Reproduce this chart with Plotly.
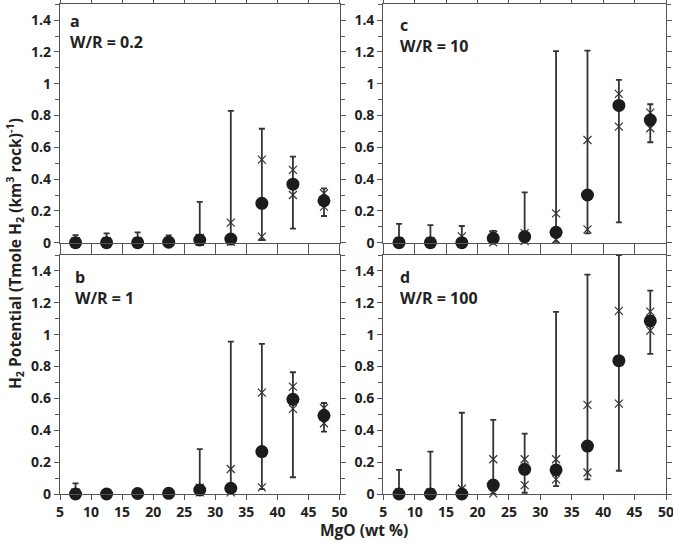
import plotly.graph_objects as go

# ---------------- data ----------------
MGO = [7.5, 12.5, 17.5, 22.5, 27.5, 32.5, 37.5, 42.5, 47.5]
X_TICKS = [5, 10, 15, 20, 25, 30, 35, 40, 45, 50]
X_TICK_TEXT = ["5", "10", "15", "20", "25", "30", "35", "40", "45", "50"]
Y_TICKS = [0, 0.2, 0.4, 0.6, 0.8, 1.0, 1.2, 1.4]
Y_TICK_TEXT = ["0", "0.2", "0.4", "0.6", "0.8", "1", "1.2", "1.4"]

PANEL_LETTERS = ["a", "c", "b", "d"]
PANEL_WR = ["W/R = 0.2", "W/R = 10", "W/R = 1", "W/R = 100"]

# W/R = 0.2 (panel a)
mean_a = [0.0, 0.0, 0.0, 0.003, 0.017, 0.023, 0.248, 0.368, 0.264]
upper_a = [0.048, 0.059, 0.065, 0.046, 0.257, 0.829, 0.717, 0.541, 0.342]
lower_a = [0.0, 0.0, 0.0, 0.0, 0.0, 0.0, 0.017, 0.089, 0.168]
xhi_a = [0.01, 0.01, 0.01, 0.01, 0.03, 0.126, 0.523, 0.458, 0.311]
xlo_a = [0.0, 0.0, 0.0, 0.0, 0.005, 0.005, 0.038, 0.300, 0.227]

# W/R = 10 (panel c)
mean_c = [0.0, 0.0, 0.0, 0.028, 0.038, 0.065, 0.300, 0.864, 0.772]
upper_c = [0.118, 0.111, 0.105, 0.074, 0.317, 1.206, 1.208, 1.024, 0.871]
lower_c = [0.0, 0.0, 0.0, 0.0, 0.0, 0.0, 0.059, 0.128, 0.632]
xhi_c = [0.01, 0.01, 0.04, 0.05, 0.06, 0.185, 0.646, 0.936, 0.818]
xlo_c = [0.0, 0.0, 0.0, 0.002, 0.01, 0.02, 0.084, 0.730, 0.720]

# W/R = 1 (panel b)
mean_b = [0.0, 0.0, 0.003, 0.004, 0.025, 0.036, 0.266, 0.594, 0.492]
upper_b = [0.067, 0.0, 0.005, 0.006, 0.282, 0.956, 0.942, 0.764, 0.571]
lower_b = [0.0, 0.0, 0.0, 0.0, 0.0, 0.0, 0.030, 0.105, 0.391]
xhi_b = [0.01, 0.0, 0.004, 0.005, 0.04, 0.157, 0.636, 0.674, 0.540]
xlo_b = [0.0, 0.0, 0.002, 0.003, 0.01, 0.01, 0.042, 0.534, 0.444]

# W/R = 100 (panel d)
mean_d = [0.0, 0.0, 0.0, 0.056, 0.155, 0.151, 0.301, 0.837, 1.086]
upper_d = [0.151, 0.266, 0.510, 0.465, 0.379, 1.143, 1.377, 1.500, 1.276]
lower_d = [0.0, 0.0, 0.0, 0.0, 0.008, 0.050, 0.092, 0.146, 0.879]
xhi_d = [0.01, 0.01, 0.033, 0.218, 0.218, 0.218, 0.559, 1.149, 1.145]
xlo_d = [0.0, 0.0, 0.0, 0.004, 0.056, 0.092, 0.135, 0.567, 1.025]

PANELS = [
    (mean_a, upper_a, lower_a, xhi_a, xlo_a),
    (mean_c, upper_c, lower_c, xhi_c, xlo_c),
    (mean_b, upper_b, lower_b, xhi_b, xlo_b),
    (mean_d, upper_d, lower_d, xhi_d, xlo_d),
]

# ---------------- styling ----------------
FONT = "Open Sans"
TXT = "#222222"
AX_COLOR = "#555555"
BAR_COLOR = "#333333"
DOT_COLOR = "#1c1c1c"

W, H = 673, 542
ML, MR, MT, MB = 60, 7, 4, 48
PW = W - ML - MR
PH = H - MT - MB

def fx(px):
    return (px - ML) / PW

def fy(py):
    return (H - MB - py) / PH

def bold(s):
    return f"<b>{s}</b>"

X_DOMAINS = [[fx(60), fx(339.5)], [fx(383.3), fx(666)], [fx(60), fx(339.5)], [fx(383.3), fx(666)]]
Y_DOMAINS = [[fy(242.7), fy(4.3)], [fy(242.7), fy(4.3)], [fy(494), fy(255)], [fy(494), fy(255)]]

fig = go.Figure()

for i, (mean, upper, lower, xhi, xlo) in enumerate(PANELS):
    xa = "x" if i == 0 else f"x{i+1}"
    ya = "y" if i == 0 else f"y{i+1}"
    fig.add_trace(go.Scatter(
        x=MGO + MGO, y=xhi + xlo, mode="markers", xaxis=xa, yaxis=ya,
        marker=dict(symbol="x-thin", size=8, line=dict(width=1.2, color=BAR_COLOR)),
        cliponaxis=False, showlegend=False, hoverinfo="skip",
    ))
    plus = [u - m for u, m in zip(upper, mean)]
    minus = [m - l for m, l in zip(mean, lower)]
    fig.add_trace(go.Scatter(
        x=MGO, y=mean, mode="markers", xaxis=xa, yaxis=ya,
        marker=dict(symbol="circle", size=13, color=DOT_COLOR),
        error_y=dict(type="data", symmetric=False, array=plus, arrayminus=minus,
                     color=BAR_COLOR, thickness=1.8, width=3),
        cliponaxis=False, showlegend=False,
    ))

layout = dict(
    width=W, height=H,
    margin=dict(l=ML, r=MR, t=MT, b=MB, autoexpand=False),
    paper_bgcolor="white", plot_bgcolor="white",
    font=dict(family=FONT, size=15, color=TXT),
    showlegend=False,
)

for i in range(4):
    xk = "xaxis" if i == 0 else f"xaxis{i+1}"
    yk = "yaxis" if i == 0 else f"yaxis{i+1}"
    yref = "y" if i == 0 else f"y{i+1}"
    xref = "x" if i == 0 else f"x{i+1}"
    bottom = i >= 2
    layout[xk] = dict(
        domain=X_DOMAINS[i], anchor=yref, range=[5, 50], automargin=False,
        tickvals=X_TICKS, ticktext=[bold(t) for t in X_TICK_TEXT],
        ticks="outside", ticklen=5, tickwidth=1, tickcolor=AX_COLOR,
        showline=True, linecolor=AX_COLOR, linewidth=1.2, mirror="ticks",
        showgrid=False, zeroline=False, showticklabels=bottom,
        ticklabeloverflow="allow",
        tickfont=dict(family=FONT, size=14, color=TXT),
    )
    layout[yk] = dict(
        domain=Y_DOMAINS[i], anchor=xref, range=[0, 1.5], automargin=False,
        tickvals=Y_TICKS, ticktext=[bold(t) for t in Y_TICK_TEXT],
        ticks="outside", ticklen=5, tickwidth=1, tickcolor=AX_COLOR,
        minor=dict(dtick=0.1, ticks="outside", ticklen=4, tickcolor=AX_COLOR, showgrid=False),
        showline=True, linecolor=AX_COLOR, linewidth=1.2, mirror="ticks",
        showgrid=False, zeroline=False, ticklabeloverflow="allow",
        tickfont=dict(family=FONT, size=14, color=TXT),
    )

fig.update_layout(**layout)

LABEL_OFFSETS = [8, 15, 13, 15]
LABEL_DY = [27.3, 31.3, 32.2, 32.5]
annotations = []
for i in range(4):
    xref = "x domain" if i == 0 else f"x{i+1} domain"
    yref = "y domain" if i == 0 else f"y{i+1} domain"
    dx = LABEL_OFFSETS[i] / ((X_DOMAINS[i][1] - X_DOMAINS[i][0]) * PW)
    h_panel = (Y_DOMAINS[i][1] - Y_DOMAINS[i][0]) * PH
    annotations.append(dict(
        text=bold(PANEL_LETTERS[i]) + "<br>" + bold(PANEL_WR[i]), xref=xref, yref=yref,
        x=dx, y=1 - LABEL_DY[i] / h_panel, xanchor="left", yanchor="middle", align="left",
        showarrow=False, font=dict(family=FONT, size=16, color=TXT),
    ))

annotations.append(dict(
    text=bold("H<sub>2</sub> Potential (Tmole H<sub>2</sub> (km<sup>3</sup> rock)<sup>-1</sup>)"),
    xref="paper", yref="paper", x=fx(14), y=fy(254), xanchor="center", yanchor="middle",
    textangle=-90, showarrow=False, font=dict(family=FONT, size=15.5, color=TXT),
))
annotations.append(dict(
    text=bold("MgO (wt %)"), xref="paper", yref="paper", x=fx(364), y=fy(530),
    xanchor="center", yanchor="middle", showarrow=False,
    font=dict(family=FONT, size=15.5, color=TXT),
))
fig.update_layout(annotations=annotations)

fig.write_html("out.html", config={"displayModeBar": False},
               post_script="document.body.style.margin='0px';")
